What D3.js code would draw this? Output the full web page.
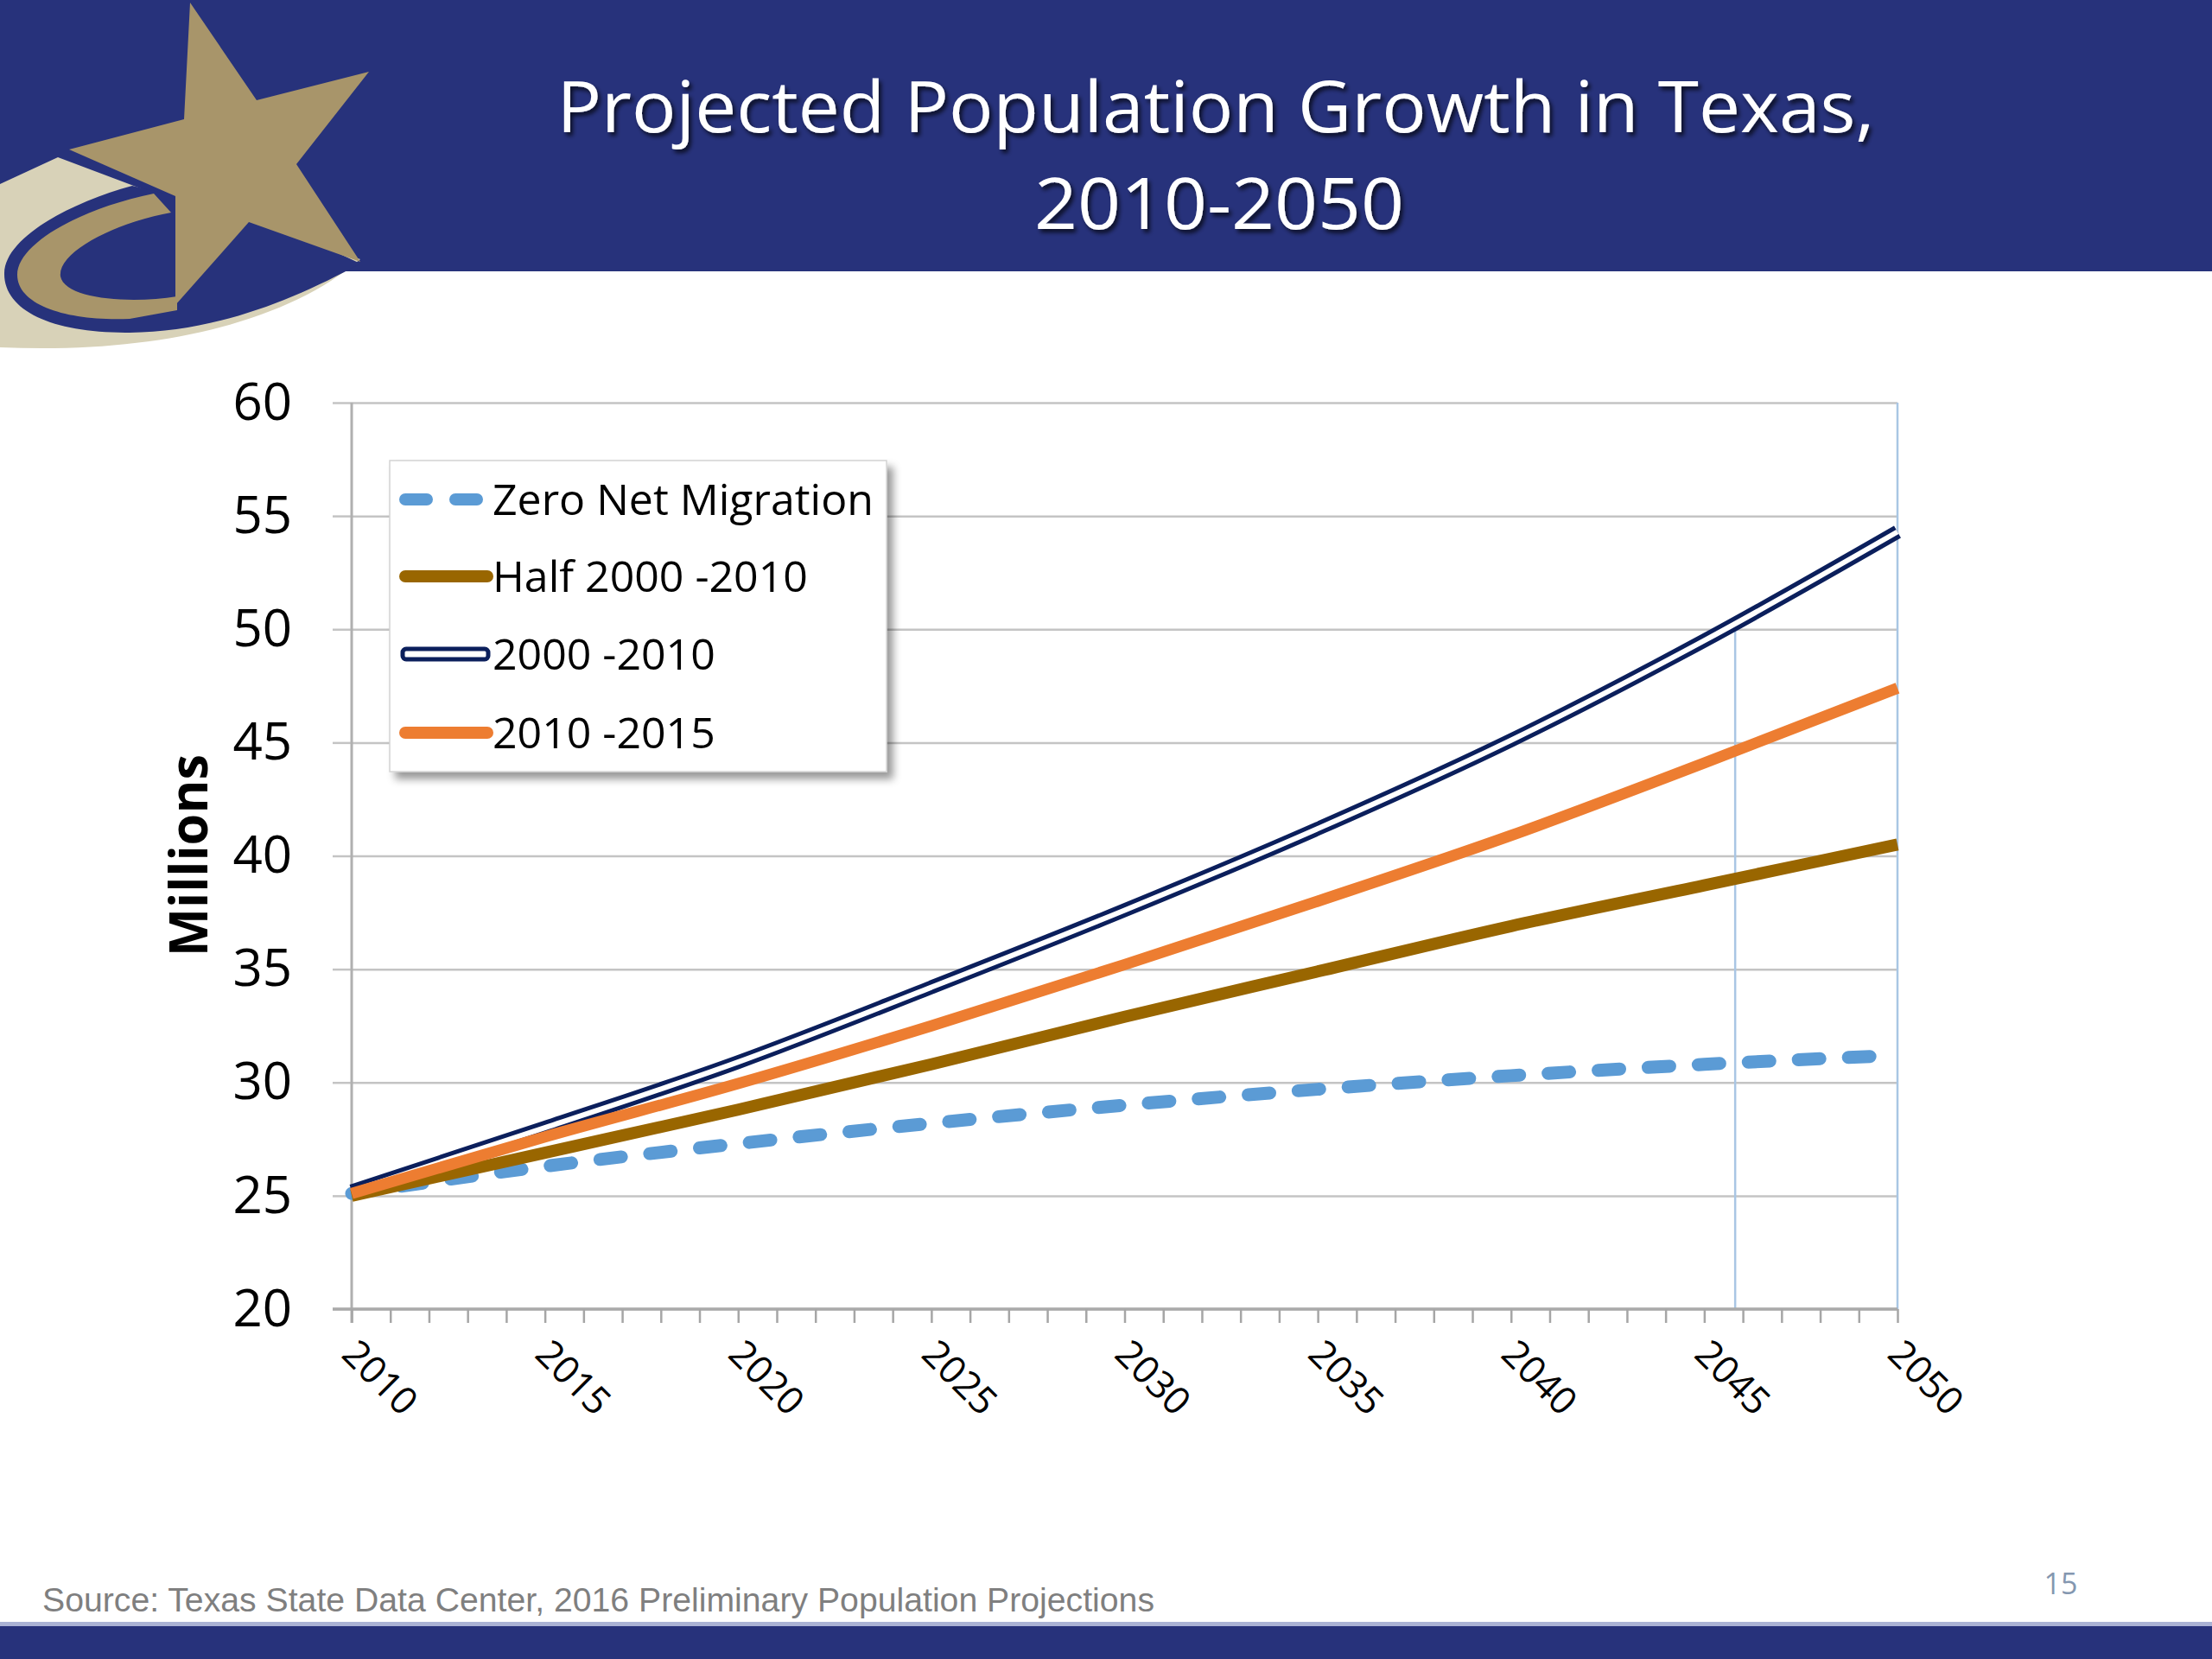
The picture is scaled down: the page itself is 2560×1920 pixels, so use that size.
<!DOCTYPE html>
<html>
<head>
<meta charset="utf-8">
<script src="https://cdn.jsdelivr.net/npm/d3@7"></script>
<style>
  html, body { margin: 0; padding: 0; background: #ffffff; }
  svg { display: block; }
</style>
</head>
<body>
<script>
// ---------- data ----------
const years = [2010, 2015, 2020, 2025, 2030, 2035, 2040, 2045, 2050];
const zeroNetMigration = [25.1, 26.3, 27.3, 28.2, 29.0, 29.7, 30.3, 30.8, 31.2];
const half2000to2010   = [25.0, 26.9, 28.8, 30.8, 32.9, 34.9, 36.9, 38.7, 40.5];
const rate2000to2010   = [25.2, 28.0, 30.9, 34.2, 37.6, 41.2, 45.1, 49.5, 54.3];
const rate2010to2015   = [25.1, 27.6, 29.95, 32.5, 35.2, 38.0, 40.9, 44.1, 47.4];
const seriesNames = ["Zero Net Migration", "Half 2000 -2010", "2000 -2010", "2010 -2015"];
const yTicks = [20, 25, 30, 35, 40, 45, 50, 55, 60];
const xLabelYears = [2010, 2015, 2020, 2025, 2030, 2035, 2040, 2045, 2050];
const markerYear = 2045.8;   // year the 2000-2010 scenario reaches 50 million
const markerValue = 50;
const titleLines = ["Projected Population Growth in Texas,", "2010-2050"];
const sourceText = "Source: Texas State Data Center, 2016 Preliminary Population Projections";
const pageNumber = "15";

// ---------- setup ----------
const W = 2560, H = 1920;
const navyBand = "#27327b";
const gold = "#a8956a";
const svg = d3.select("body").append("svg").attr("width", W).attr("height", H);
const defs = svg.append("defs");
const fTitle = defs.append("filter").attr("id", "tshadow").attr("x", "-5%").attr("y", "-20%").attr("width", "110%").attr("height", "150%");
fTitle.append("feDropShadow").attr("dx", 3).attr("dy", 4).attr("stdDeviation", 2.5).attr("flood-color", "#000").attr("flood-opacity", 0.7);
const fLeg = defs.append("filter").attr("id", "lshadow").attr("x", "-10%").attr("y", "-10%").attr("width", "125%").attr("height", "125%");
fLeg.append("feDropShadow").attr("dx", 7).attr("dy", 8).attr("stdDeviation", 5).attr("flood-color", "#000").attr("flood-opacity", 0.4);

svg.append("rect").attr("width", W).attr("height", H).attr("fill", "#fff");

// header band
svg.append("rect").attr("x", 0).attr("y", 0).attr("width", W).attr("height", 314).attr("fill", navyBand);

// logo
const logo = svg.append("g");
logo.append("path").attr("d", "M0,213 L67,182 L160,217 L417,300 C 330,374 180,410 0,402 Z").attr("fill", "#d8d2b8");
logo.append("path").attr("d", "M153,215 C 80,235 6,275 5,316 C 4,360 62,386 150,385 C 250,384 340,347 417,305 L 300,250 Z").attr("fill", navyBand);
logo.append("path").attr("d", "M178,224 C 90,242 20,283 20,318 C 20,354 80,372 150,369 L205,359 L205,343 C 150,352 75,346 70,320 C 66,290 140,256 198,246 Z").attr("fill", gold);
logo.append("polygon").attr("points", "220,3 297,116 427,83 343,190 417,303 288,257 203,353 203,227 80,173 213,138").attr("fill", gold);

// title
const title = svg.append("g").attr("filter", "url(#tshadow)")
  .attr("font-family", "'Open Sans', sans-serif").attr("fill", "#fff").attr("text-anchor", "middle");
title.append("text").attr("x", 1407).attr("y", 153).attr("font-size", 82)
  .attr("textLength", 1525).attr("lengthAdjust", "spacingAndGlyphs").text(titleLines[0]);
title.append("text").attr("x", 1411).attr("y", 265).attr("font-size", 82)
  .attr("textLength", 428).attr("lengthAdjust", "spacingAndGlyphs").text(titleLines[1]);

// ---------- chart ----------
const x = d3.scaleLinear().domain([2010, 2050]).range([407, 2196]);
const y = d3.scaleLinear().domain([20, 60]).range([1515, 466]);
const gridColor = "#c4c4c4";

// y axis ticks/labels
const yAxis = svg.append("g").attr("transform", `translate(${x(2010)},0)`)
  .call(d3.axisLeft(y).tickValues(yTicks).tickSize(22).tickPadding(47).tickFormat(d3.format("d")));
yAxis.select(".domain").remove();
yAxis.selectAll(".tick line").attr("stroke", gridColor).attr("stroke-width", 2.5);
yAxis.selectAll(".tick text").attr("font-family", "'Open Sans', sans-serif").attr("font-size", 60).attr("fill", "#000");

// gridlines
const grid = svg.append("g").attr("transform", `translate(${x(2010)},0)`)
  .call(d3.axisLeft(y).tickValues(yTicks).tickSize(-(x(2050) - x(2010))).tickFormat(""));
grid.select(".domain").remove();
grid.selectAll(".tick line").attr("stroke", gridColor).attr("stroke-width", 2.5);

// light blue vertical lines
svg.append("line").attr("x1", x(markerYear)).attr("x2", x(markerYear))
  .attr("y1", y(markerValue)).attr("y2", y(20)).attr("stroke", "#a9c6e4").attr("stroke-width", 2.5);
svg.append("line").attr("x1", x(2050)).attr("x2", x(2050))
  .attr("y1", y(60)).attr("y2", y(20)).attr("stroke", "#a9c6e4").attr("stroke-width", 2.5);

// y axis line
svg.append("line").attr("x1", x(2010)).attr("x2", x(2010)).attr("y1", y(60)).attr("y2", y(20) + 16)
  .attr("stroke", "#b0b0b0").attr("stroke-width", 3);

// x axis
const xAxis = svg.append("g").attr("transform", `translate(0,${y(20)})`)
  .call(d3.axisBottom(x).tickValues(d3.range(2010, 2051, 1)).tickSize(16).tickFormat(""));
xAxis.select(".domain").attr("d", `M${x(2010) - 22},0H${x(2050)}`).attr("stroke", "#aaaaaa").attr("stroke-width", 3.5);
xAxis.selectAll(".tick line").attr("stroke", "#a6a6a6").attr("stroke-width", 2.5);

svg.append("g").selectAll("text").data(xLabelYears).join("text")
  .attr("transform", d => `translate(${x(d) + 9},${y(20) + 32}) rotate(45)`)
  .attr("dy", "0.72em")
  .attr("font-family", "'Open Sans', sans-serif").attr("font-size", 44).attr("fill", "#000")
  .text(d => d);

// y axis title
svg.append("text").attr("transform", `translate(240,990) rotate(-90)`)
  .attr("text-anchor", "middle").attr("font-family", "'Open Sans', sans-serif")
  .attr("font-weight", "bold").attr("font-size", 60).attr("fill", "#000")
  .attr("textLength", 234).attr("lengthAdjust", "spacingAndGlyphs").text("Millions");

// lines
const line = d3.line().x((d, i) => x(years[i])).y(d => y(d)).curve(d3.curveMonotoneX);
const plot = svg.append("g");
plot.append("path").attr("d", line(zeroNetMigration)).attr("fill", "none")
  .attr("stroke", "#5b9bd5").attr("stroke-width", 15).attr("stroke-linecap", "round")
  .attr("stroke-dasharray", "25,33");
plot.append("path").attr("d", line(half2000to2010)).attr("fill", "none")
  .attr("stroke", "#996600").attr("stroke-width", 14);
plot.append("path").attr("d", line(rate2000to2010)).attr("fill", "none")
  .attr("stroke", "#0b1f5c").attr("stroke-width", 16);
plot.append("path").attr("d", line(rate2000to2010)).attr("fill", "none")
  .attr("stroke", "#ffffff").attr("stroke-width", 6);
plot.append("path").attr("d", line(rate2010to2015)).attr("fill", "none")
  .attr("stroke", "#ed7d31").attr("stroke-width", 13);

// legend
const leg = svg.append("g");
leg.append("rect").attr("x", 451).attr("y", 533).attr("width", 575).attr("height", 360)
  .attr("fill", "#fff").attr("stroke", "#d4d4d4").attr("stroke-width", 1.5).attr("filter", "url(#lshadow)");
const rowY = [578, 667, 757, 848];
const sx0 = 469, sx1 = 560;
leg.append("line").attr("x1", sx0).attr("x2", sx1).attr("y1", rowY[0]).attr("y2", rowY[0])
  .attr("stroke", "#5b9bd5").attr("stroke-width", 14).attr("stroke-linecap", "round").attr("stroke-dasharray", "25,33");
leg.append("line").attr("x1", sx0).attr("x2", sx1 + 4).attr("y1", rowY[1]).attr("y2", rowY[1])
  .attr("stroke", "#996600").attr("stroke-width", 14).attr("stroke-linecap", "round");
leg.append("rect").attr("x", sx0 - 3).attr("y", rowY[2] - 6).attr("width", sx1 - sx0 + 8).attr("height", 12)
  .attr("rx", 4).attr("fill", "#fff").attr("stroke", "#0b1f5c").attr("stroke-width", 5);
leg.append("line").attr("x1", sx0).attr("x2", sx1 + 4).attr("y1", rowY[3]).attr("y2", rowY[3])
  .attr("stroke", "#ed7d31").attr("stroke-width", 14).attr("stroke-linecap", "round");
leg.selectAll("text.lbl").data(seriesNames).join("text").attr("class", "lbl")
  .attr("x", 570).attr("y", (d, i) => rowY[i]).attr("dy", "0.36em")
  .attr("font-family", "'Open Sans', sans-serif").attr("font-size", 50).attr("fill", "#000")
  .text(d => d);

// footer
svg.append("text").attr("x", 49).attr("y", 1865).attr("font-family", "'Liberation Sans', Arial, sans-serif")
  .attr("font-size", 38).attr("fill", "#7f7f7f").attr("textLength", 1287).attr("lengthAdjust", "spacingAndGlyphs")
  .text(sourceText);
svg.append("text").attr("x", 2385).attr("y", 1845).attr("text-anchor", "middle")
  .attr("font-family", "'Open Sans', sans-serif").attr("font-size", 34).attr("fill", "#8497b0").text(pageNumber);
svg.append("rect").attr("x", 0).attr("y", 1877).attr("width", W).attr("height", 5).attr("fill", "#aab2d4");
svg.append("rect").attr("x", 0).attr("y", 1882).attr("width", W).attr("height", 38).attr("fill", navyBand);
</script>
</body>
</html>
